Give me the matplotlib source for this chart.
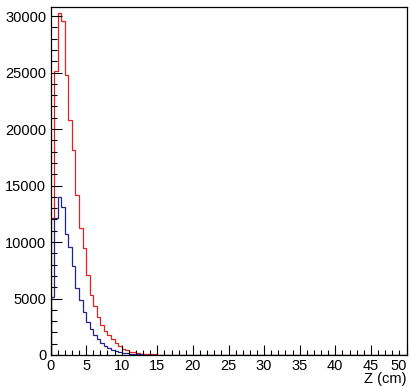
import numpy as np
import matplotlib
matplotlib.use("Agg")
import matplotlib.pyplot as plt
from matplotlib.ticker import MultipleLocator

plt.rcParams['font.family'] = ['Liberation Sans', 'DejaVu Sans']

# Binning: 100 bins of 0.5 cm from 0 to 50
bin_width = 0.5
n_bins = 100

red_counts = [12100, 25100, 30300, 29600, 24800, 20800, 18100, 14200, 11200, 9470,
              7080, 5300, 4300, 3400, 2650, 2100, 1750, 1400, 1100, 800,
              560, 420, 300, 230, 170, 130, 100, 80, 60, 48,
              38, 30, 24, 19, 15, 12, 10, 8, 6, 5,
              4, 3, 2, 2, 1, 1, 1]
blue_counts = [5100, 12100, 14000, 13100, 10700, 9600, 7900, 5900, 4900, 3850,
               2950, 2300, 1800, 1400, 1050, 800, 600, 450, 350, 270,
               200, 150, 120, 90, 70, 55, 40, 30, 25, 20,
               15, 12, 10, 8, 6, 5, 4, 3, 2, 2, 1, 1]

x_label = "Z (cm)"
x_range = (0, 50)
y_range = (0, 30800)

edges = np.arange(n_bins + 1) * bin_width
red = np.zeros(n_bins); red[:len(red_counts)] = red_counts
blue = np.zeros(n_bins); blue[:len(blue_counts)] = blue_counts

fig = plt.figure(figsize=(4.11, 3.86), dpi=100)
ax = fig.add_axes([50.5/411, 1-355/386, (406.5-50.5)/411, (355-7)/386])

ax.stairs(red, edges, color='#e02222', lw=0.9)
ax.stairs(blue, edges, color='#22228c', lw=0.9)

ax.set_xlim(*x_range)
ax.set_ylim(*y_range)

ax.xaxis.set_major_locator(MultipleLocator(5))
ax.xaxis.set_minor_locator(MultipleLocator(1))
ax.yaxis.set_major_locator(MultipleLocator(5000))
ax.yaxis.set_minor_locator(MultipleLocator(1000))

ax.tick_params(axis='both', which='both', direction='in', top=False, right=False,
               labelsize=10.5, colors='black', width=0.8)
ax.tick_params(axis='y', which='major', length=8, pad=3)
ax.tick_params(axis='y', which='minor', length=4)
ax.tick_params(axis='x', which='major', length=7.5, pad=3)
ax.tick_params(axis='x', which='minor', length=3.7)

for s in ax.spines.values():
    s.set_linewidth(0.9)
    s.set_color('black')

fig.canvas.draw()
for t in ax.xaxis.get_major_ticks():
    if abs(t.get_loc() - x_range[1]) < 1e-9:
        t.label1.set_horizontalalignment('right')

fig.text(406/411, 1-383/386, x_label, ha='right', va='baseline', fontsize=10.5)

fig.savefig("out.png", dpi=100)
